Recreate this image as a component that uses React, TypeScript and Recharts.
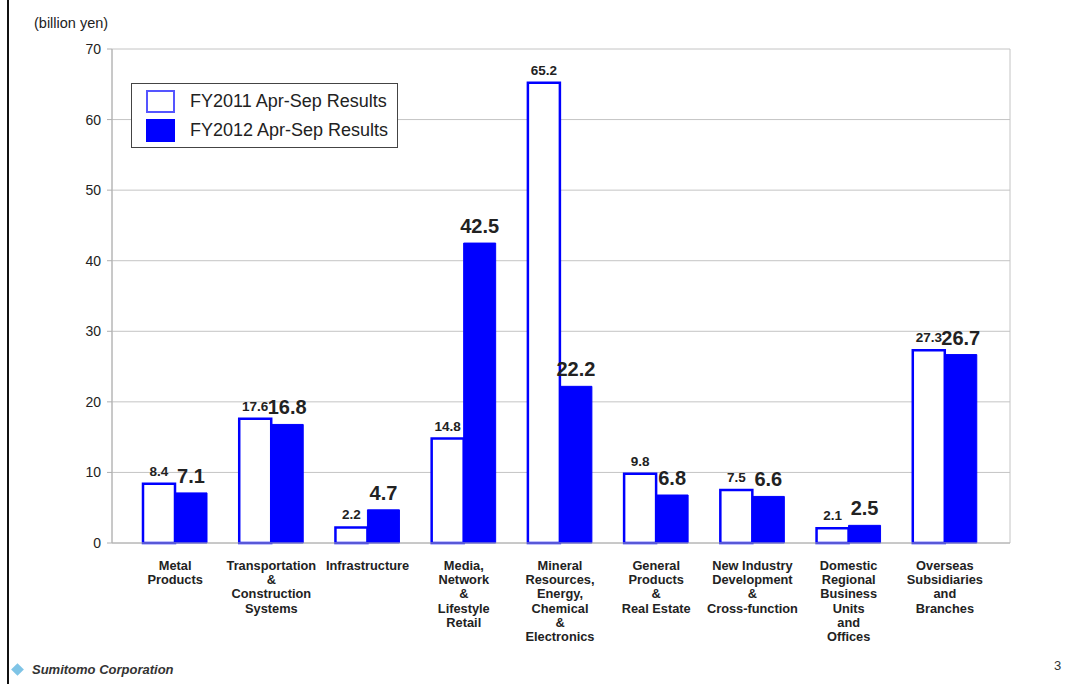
import React from "react";
import { BarChart, Bar, XAxis, YAxis, CartesianGrid, LabelList, Legend } from "recharts";

const categories = [
  "Metal\nProducts",
  "Transportation\n&\nConstruction\nSystems",
  "Infrastructure",
  "Media,\nNetwork\n&\nLifestyle\nRetail",
  "Mineral\nResources,\nEnergy,\nChemical\n&\nElectronics",
  "General\nProducts\n&\nReal Estate",
  "New Industry\nDevelopment\n&\nCross-function",
  "Domestic\nRegional\nBusiness\nUnits\nand\nOffices",
  "Overseas\nSubsidiaries\nand\nBranches",
];
const fy2011 = [8.4, 17.6, 2.2, 14.8, 65.2, 9.8, 7.5, 2.1, 27.3];
const fy2012 = [7.1, 16.8, 4.7, 42.5, 22.2, 6.8, 6.6, 2.5, 26.7];
const yTicks = [0, 10, 20, 30, 40, 50, 60, 70];
const seriesNames = ["FY2011 Apr-Sep Results", "FY2012 Apr-Sep Results"];

const data = categories.map((c, i) => ({ name: c, a: fy2011[i], b: fy2012[i] }));

const FONT = "'Liberation Sans', Arial, sans-serif";
const BLUE = "#0000FF";

const CatTick = (props: any) => {
  const { x, y, payload } = props;
  const lines = String(payload.value).split("\n");
  return (
    <text x={x} y={y + 19} textAnchor="middle" fontFamily={FONT} fontSize={12.8} fontWeight="bold" fill="#222">
      {lines.map((l, i) => (
        <tspan key={i} x={x} dy={i === 0 ? 0 : 14.2}>
          {l}
        </tspan>
      ))}
    </text>
  );
};

const makeLabel = (size: number, off: number) => (props: any) => {
  const { x, y, width, value } = props;
  return (
    <text x={x + width / 2} y={y - off} textAnchor="middle" fontFamily={FONT} fontSize={size} fontWeight="bold" fill="#222">
      {Number(value).toFixed(1)}
    </text>
  );
};

const LegendBox = () => (
  <div
    style={{
      border: "1px solid #444",
      background: "#fff",
      width: 267,
      height: 65,
      boxSizing: "border-box",
      fontFamily: FONT,
      fontSize: 18,
      color: "#222",
      position: "relative",
    }}
  >
    {seriesNames.map((n, i) => (
      <div key={n} style={{ position: "absolute", left: 14, top: 6 + i * 29, display: "flex", alignItems: "center" }}>
        <div
          style={{
            width: 29,
            height: 23,
            boxSizing: "border-box",
            border: `2px solid ${i === 0 ? "#5555ff" : BLUE}`,
            background: i === 0 ? "#fff" : BLUE,
          }}
        />
        <span style={{ marginLeft: 15 }}>{n}</span>
      </div>
    ))}
  </div>
);

export default function App() {
  return (
    <div style={{ position: "absolute", left: 0, top: 0, width: 1071, height: 684, background: "#fff", overflow: "hidden" }}>
      <div style={{ position: "absolute", left: 7, top: 0, width: 2, height: 684, background: "#111" }} />
      <div style={{ position: "absolute", left: 34, top: 15, fontFamily: FONT, fontSize: 14.5, color: "#222" }}>(billion yen)</div>
      <BarChart
        width={1071}
        height={684}
        data={data}
        margin={{ top: 49, right: 61, bottom: 21, left: 58 }}
        barGap={0}
        barSize={32}
      >
        <CartesianGrid
          stroke="#c4c4c4"
          vertical
          verticalCoordinatesGenerator={(p: any) => [p.offset.left, p.offset.left + p.offset.width]}
        />
        <XAxis
          dataKey="name"
          interval={0}
          tickLine={false}
          axisLine={{ stroke: "#b0b0b0" }}
          tick={<CatTick />}
          height={120}
          padding={{ left: 15, right: 17 }}
        />
        <YAxis
          width={54}
          domain={[0, 70]}
          ticks={yTicks}
          axisLine={{ stroke: "#b0b0b0" }}
          tickLine={{ stroke: "#b0b0b0" }}
          tickSize={5}
          tickMargin={6}
          tick={{ fontFamily: FONT, fontSize: 14, fill: "#222" }}
        />
        <Legend
          layout="horizontal"
          verticalAlign="middle"
          align="center"
          content={<LegendBox />}
          wrapperStyle={{ position: "absolute", left: 131, top: 83, width: 267, height: 65 }}
        />
        <Bar dataKey="a" name={seriesNames[0]} fill="#fff" stroke={BLUE} strokeWidth={2.5} isAnimationActive={false}>
          <LabelList dataKey="a" content={makeLabel(13.5, 8)} />
        </Bar>
        <Bar dataKey="b" name={seriesNames[1]} fill={BLUE} stroke={BLUE} strokeWidth={1} isAnimationActive={false}>
          <LabelList dataKey="b" content={makeLabel(20, 10)} />
        </Bar>
      </BarChart>
      <div style={{ position: "absolute", left: 13, top: 662, display: "flex", alignItems: "center" }}>
        <div style={{ width: 9, height: 9, background: "#7fc4e6", transform: "rotate(45deg)" }} />
        <span style={{ marginLeft: 10, fontFamily: FONT, fontSize: 13, fontStyle: "italic", fontWeight: "bold", color: "#333" }}>
          Sumitomo Corporation
        </span>
      </div>
      <div style={{ position: "absolute", left: 1054, top: 658, fontFamily: FONT, fontSize: 13, color: "#333" }}>3</div>
    </div>
  );
}
